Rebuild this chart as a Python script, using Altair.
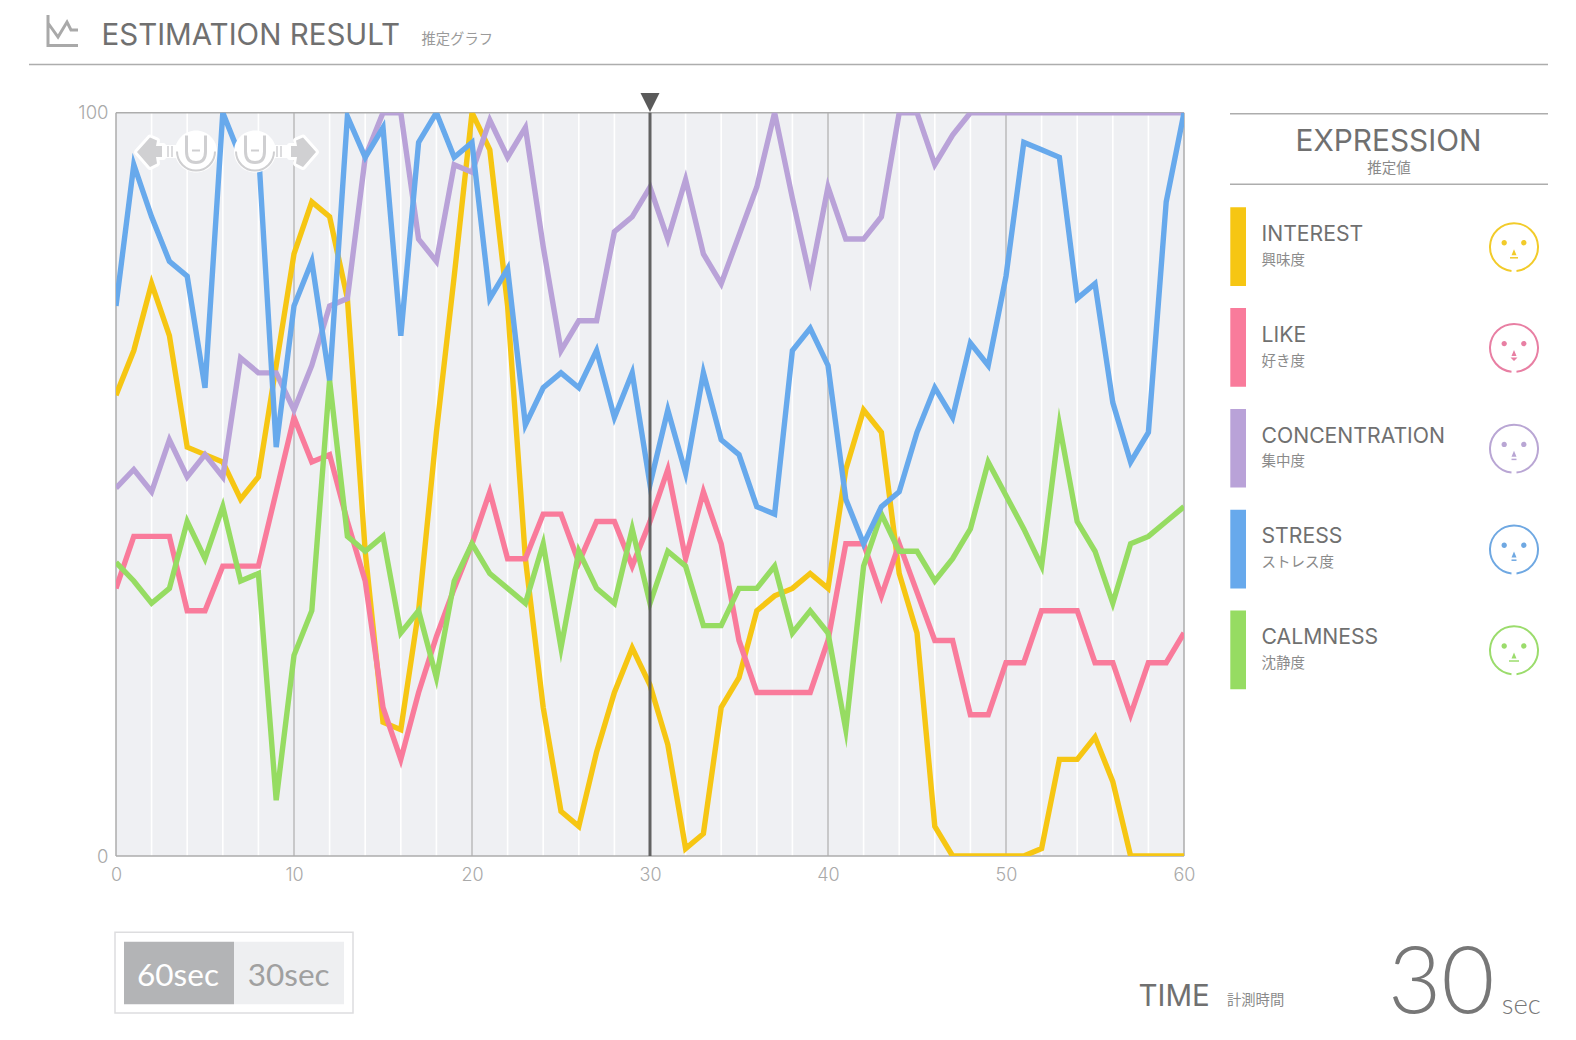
import altair as alt
import pandas as pd

# ---------- values ----------
seconds = list(range(61))
interest = [62, 68, 77, 70, 55, 54, 53, 48, 51, 66, 81, 88, 86, 75, 41, 18, 17, 33, 57, 78, 100,
            95, 74, 40, 20, 6, 4, 14, 22, 28, 23, 15, 1, 3, 20, 24, 33, 35, 36, 38, 36,
            52, 60, 57, 38, 30, 4, 0, 0, 0, 0, 0, 1, 13, 13, 16, 10, 0, 0, 0, 0]
like = [36, 43, 43, 43, 33, 33, 39, 39, 39, 49, 59, 53, 54, 45, 37, 20, 13, 22, 29.5, 36, 42,
        49, 40, 40, 46, 46, 39.5, 45, 45, 39, 45, 52, 40, 49, 42, 29, 22, 22, 22, 22, 29,
        42, 42, 35, 42, 35.5, 29, 29, 19, 19, 26, 26, 33, 33, 33, 26, 26, 19, 26, 26, 30]
concentration = [49.5, 52, 49, 56, 51, 54, 51, 67, 65, 65, 60, 66, 74, 75, 94, 100, 100, 83, 80, 93, 92,
                 99, 94, 98, 82, 68, 72, 72, 84, 86, 90, 83, 91, 81, 77, 83.5, 90, 100, 88.5, 77.7, 90,
                 83, 83, 86, 100, 100, 93, 97, 100, 100, 100, 100, 100, 100, 100, 100, 100, 100, 100, 100, 100]
stress = [74, 93, 86, 80, 78, 63, 100, 94, 95, 55, 74, 80, 64, 99.5, 94, 98, 70, 96, 100, 94, 96,
          75, 79, 58, 63, 65, 63, 68, 59, 65, 50, 60, 51.5, 65, 56, 54, 47, 46, 68, 71, 66,
          48, 42, 47, 49, 57, 63, 59, 69, 66, 78, 96, 95, 94, 75, 77, 61, 53, 57, 88, 100]
calmness = [39.5, 37, 34, 36, 45, 40, 47, 37, 38, 7.5, 27, 33, 64, 43, 41, 43, 30, 33, 24, 37, 42,
            38, 36, 34, 42, 28, 41, 36, 34, 44, 34, 41, 39, 31, 31, 36, 36, 39, 30, 33, 30,
            17, 39, 46, 41, 41, 37, 40, 44, 53, 48.5, 44, 39, 58, 45, 41, 34, 42, 43, 45, 47]

names = ["INTEREST", "LIKE", "CONCENTRATION", "STRESS", "CALMNESS"]
names_ja = ["興味度", "好き度", "集中度", "ストレス度", "沈静度"]
colors = ["#f6c613", "#f97b9b", "#b9a2d8", "#67a9ec", "#96dc62"]
face_colors = ["#f2cb2a", "#e87fa3", "#b9a6d4", "#6fa8e2", "#9bdc6c"]
series = [interest, like, concentration, stress, calmness]
draw_order = [0, 1, 2, 4, 3]

x_ticks = [0, 10, 20, 30, 40, 50, 60]
y_ticks = [0, 100]
minor_grid = [s for s in range(2, 60, 2) if s % 10 != 0]
major_grid = [10, 20, 40, 50]
cursor_at = [30]

SANS = "Inter"
JA = "Noto Sans CJK JP"
LATIN_W = 400

# ---------- page geometry ----------
LEFT, TOP = 116.0, 112.7
W, H = 1068.0, 743.3
one = pd.DataFrame({"k": [0]})


def X(v):
    return alt.value(v - LEFT)


def Y(v):
    return alt.value(v - TOP)


def text(s, x, y, size, color, align="left", baseline="alphabetic", font=SANS, weight=LATIN_W):
    return alt.Chart(one).mark_text(
        text=s, fontSize=size, color=color, align=align, baseline=baseline, font=font, fontWeight=weight
    ).encode(x=X(x), y=Y(y))


def hrule(x1, x2, y, color="#adadad", w=1.5):
    return alt.Chart(one).mark_rule(color=color, strokeWidth=w).encode(x=X(x1), x2=X(x2), y=Y(y))


def box(x1, x2, y1, y2, fill, stroke=None, sw=0):
    kw = {"fill": fill}
    if stroke:
        kw.update(stroke=stroke, strokeWidth=sw)
    return alt.Chart(one).mark_rect(**kw).encode(x=X(x1), x2=X(x2), y=Y(y1), y2=Y(y2))


def shape_stroke(path, color, w, cx=0.0, cy=0.0, join="round"):
    return alt.Chart(one).mark_point(
        shape=path, size=4, filled=False, stroke=color, strokeWidth=w, opacity=1, strokeJoin=join
    ).encode(x=X(cx), y=Y(cy))


def shape_fill(path, color, cx=0.0, cy=0.0):
    return alt.Chart(one).mark_point(
        shape=path, size=4, filled=True, fill=color, opacity=1
    ).encode(x=X(cx), y=Y(cy))


def dot(x, y, r):
    return f"M{x - r},{y} a{r},{r} 0 1 0 {2 * r},0 a{r},{r} 0 1 0 {-2 * r},0 Z"


layers = []

# ---------- plot background, grid, axes ----------
layers.append(
    alt.Chart(pd.DataFrame({"x": [0], "x2": [60], "y": [0], "y2": [100]})).mark_rect(fill="#eff0f3").encode(
        x=alt.X("x:Q", scale=alt.Scale(domain=[0, 60], nice=False, zero=False),
                axis=alt.Axis(values=x_ticks, title=None, domain=False, ticks=False, grid=False,
                              labelColor="#a9a9a9", labelFont=SANS, labelFontWeight=300, labelFontSize=18,
                              labelPadding=10.5, format="d", labelFlush=False, labelOverlap=False)),
        x2="x2:Q",
        y=alt.Y("y:Q", scale=alt.Scale(domain=[0, 100], nice=False, zero=False),
                axis=alt.Axis(values=y_ticks, title=None, domain=False, ticks=False, grid=False,
                              labelColor="#a9a9a9", labelFont=SANS, labelFontWeight=300, labelFontSize=18.5,
                              labelPadding=8, format="d", labelFlush=False, labelOverlap=False)),
        y2="y2:Q",
    )
)
layers.append(alt.Chart(pd.DataFrame({"t": minor_grid})).mark_rule(color="#ffffff", strokeWidth=1.6).encode(x="t:Q"))
layers.append(alt.Chart(pd.DataFrame({"t": major_grid})).mark_rule(color="#adadad", strokeWidth=1.2).encode(x="t:Q"))
layers.append(hrule(LEFT, LEFT + W, TOP))
layers.append(hrule(LEFT, LEFT + W, TOP + H))
layers.append(alt.Chart(one).mark_rule(color="#adadad", strokeWidth=1.5).encode(x=X(LEFT), y=Y(TOP), y2=Y(TOP + H)))
layers.append(alt.Chart(one).mark_rule(color="#adadad", strokeWidth=1.5).encode(x=X(LEFT + W), y=Y(TOP), y2=Y(TOP + H)))

# ---------- series ----------
for i in draw_order:
    df = pd.DataFrame({"t": seconds, "v": series[i]})
    layers.append(
        alt.Chart(df).mark_line(color=colors[i], strokeWidth=5.4, strokeJoin="miter", strokeMiterLimit=8, clip=True).encode(
            x=alt.X("t:Q"), y=alt.Y("v:Q")
        )
    )

# ---------- cursor ----------
layers.append(alt.Chart(pd.DataFrame({"t": cursor_at})).mark_rule(color="#5a5a5a", strokeWidth=3, opacity=0.95).encode(x="t:Q"))
layers.append(
    alt.Chart(pd.DataFrame({"t": cursor_at})).mark_point(
        shape="M-9.5,-9.5 L9.5,-9.5 L0,9.5 Z", size=4, filled=True, fill="#5a5a5a", opacity=1
    ).encode(x="t:Q", y=Y(102.5))
)

# ---------- drag handles over the plot ----------
left_arrow = "M137,152 L150,137.5 L157,140.5 L156,146 L163,146 L163,157 L156,157 L157,163.5 L150,167 Z"
right_arrow = "M316,152 L303,137.5 L296,140.5 L297,146 L290,146 L290,157 L297,157 L296,163.5 L303,167 Z"
for arrow in (left_arrow, right_arrow):
    layers.append(shape_stroke(arrow, "#ffffff", 6))
    layers.append(shape_fill(arrow, "#d0d0d2"))
for a, b in ((162, 179), (273, 291)):
    layers.append(box(a, b, 145, 158, "#ffffff"))
for a in (167, 171, 276, 280):
    layers.append(box(a, a + 2, 146, 157, "#dcdcde"))
for c in (196.0, 255.0):
    layers.append(shape_fill(dot(0, 0, 21), "#ffffff", cx=c, cy=151.5))
    layers.append(shape_stroke("M-19,0 A19,19 0 0 0 19,0", "#cfcfd1", 2, cx=c, cy=151.5))
    layers.append(shape_stroke("M-9.5,-16 V0 Q-9.5,11 0,11 Q9.5,11 9.5,0 V-16", "#cfcfd1", 3, cx=c, cy=151.5))
    layers.append(shape_stroke("M-4,-1 H4", "#cfcfd1", 2, cx=c, cy=151.5))

# ---------- header ----------
layers.append(shape_stroke("M48,15 V45.5 H78 M48,23 L58,37 L67,22 L71,30 L78,30", "#a9a9a9", 3, join="miter"))
layers.append(text("ESTIMATION RESULT", 101.5, 45, 29.5, "#707070"))
layers.append(text("推定グラフ", 421.5, 39.5, 14.3, "#9a9a9a", baseline="middle", font=JA, weight=400))
layers.append(hrule(29, 1548, 64.5))

# ---------- right panel ----------
layers.append(hrule(1230, 1548, 113.7))
layers.append(hrule(1230, 1548, 184.3))
layers.append(text("EXPRESSION", 1388.5, 150.7, 29.8, "#707070", align="center"))
layers.append(text("推定値", 1389, 169, 14.5, "#8a8a8a", align="center", baseline="middle", font=JA, weight=400))

mouths = ["M-4,10.6 H4", None, "M-2.5,10.6 H2.5", "M-2.5,10.6 H2.5", "M-5,10.6 H5"]
for i, name in enumerate(names):
    off = 100.8 * i
    layers.append(box(1230.3, 1246, 207.3 + off, 286 + off, colors[i]))
    layers.append(text(name, 1261.5, 241 + off, 21.2, "#707070"))
    layers.append(text(names_ja[i], 1261.5, 260.7 + off, 14.5, "#8a8a8a", baseline="middle", font=JA, weight=400))
    cx, cy = 1514, 247.2 + off
    layers.append(shape_stroke("M-2.5,23.8 A24,24 0 1 1 2.5,23.8", face_colors[i], 2, cx=cx, cy=cy))
    feat = dot(-9.8, -4.4, 2.7) + " " + dot(9.8, -4.4, 2.7) + " M0,2 L2.5,8 L-2.5,8 Z"
    if mouths[i] is None:
        feat += " M-3.5,9.5 L3.5,9.5 L0,13 Z"
    layers.append(shape_fill(feat, face_colors[i], cx=cx, cy=cy))
    if mouths[i] is not None:
        layers.append(shape_stroke(mouths[i], face_colors[i], 1.5, cx=cx, cy=cy))

# ---------- range switch ----------
layers.append(box(115, 353, 932.3, 1013, "#ffffff", "#dddddf", 1.5))
layers.append(box(124, 234, 941.7, 1004.3, "#b3b4b6"))
layers.append(box(234, 344, 941.7, 1004.3, "#eeeff1"))
layers.append(text("60sec", 178, 985.5, 31.5, "#ffffff", align="center", font="Lato", weight=400))
layers.append(text("30sec", 288.7, 985.5, 31.5, "#a0a0a0", align="center", font="Lato", weight=400))

# ---------- time ----------
layers.append(text("TIME", 1138.5, 1006, 29.5, "#707070"))
layers.append(text("計測時間", 1227, 1000.7, 14.3, "#8a8a8a", baseline="middle", font=JA, weight=400))
layers.append(text("30", 1388, 1013, 92, "#777777", font="Lato", weight=300))
layers.append(text("sec", 1501.7, 1014, 27.5, "#777777", font="Lato", weight=300))

chart = (
    alt.layer(*layers)
    .properties(
        width=W,
        height=H,
        padding={"left": LEFT - 8, "top": TOP - 8, "right": 380, "bottom": 176},
        autosize=alt.AutoSizeParams(type="none"),
        background="#ffffff",
    )
    .configure_view(stroke=None)
)

chart.save("out.html", embed_options={"renderer": "svg", "actions": False})
